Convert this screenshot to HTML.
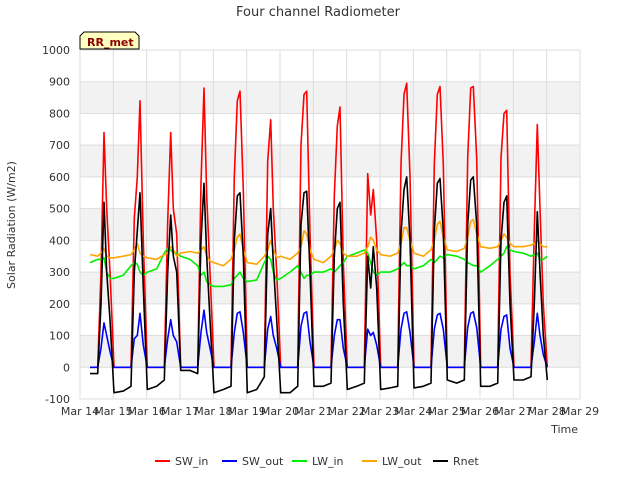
<!DOCTYPE html>
<html><head><meta charset="utf-8"><style>
body{margin:0;background:#fff;font-family:"DejaVu Sans","Liberation Sans",sans-serif;}
svg text{font-family:"DejaVu Sans","Liberation Sans",sans-serif;}
</style></head><body>
<svg id="chart" width="640" height="480">
<rect width="640" height="480" fill="#fff"/>
<text x="318" y="16" text-anchor="middle" font-size="13" fill="#333">Four channel Radiometer</text>
<g id="plot"></g>
<text x="15" y="225" font-size="11" fill="#333" text-anchor="middle" transform="rotate(-90 15 225)">Solar Radiation (W/m2)</text>
<text x="578" y="433" font-size="11" fill="#333" text-anchor="end">Time</text>
<g id="legend"></g>
<g>
<path d="M80,49 L80,36 L84,32 L135,32 L139,36 L139,49 Z" fill="#ffffc0" stroke="#000" stroke-width="1"/>
<text x="87" y="46" font-size="11" font-weight="bold" fill="#8b0000">RR_met</text>
</g>
</svg>
<script>
const dayOffsets=[0.3,0.53,0.63,0.72,0.8,0.9,1.02];
const days=[14,15,16,17,18,19,20,21,22,23,24,25,26,27];
const swIn=[
0,0,300,740,500,300,0, 0,0,470,600,840,400,0, 0,0,460,740,500,420,0, 0,0,580,880,540,300,0,
0,0,600,840,870,560,0, 0,0,650,780,500,300,0, 0,0,700,860,870,420,0, 0,0,540,760,820,330,0,
0,0,610,480,560,400,0, 0,0,640,860,895,600,0, 0,0,640,860,885,640,0, 0,0,660,880,885,660,0,
0,0,660,800,810,300,0, 0,0,430,765,500,200,0];
const swOut=[
0,0,60,140,100,50,0, 0,0,90,100,170,70,0, 0,0,90,150,100,80,0, 0,0,110,180,110,60,0,
0,0,110,170,175,110,0, 0,0,120,160,100,60,0, 0,0,130,170,175,80,0, 0,0,100,150,150,60,0,
0,0,120,100,110,70,0, 0,0,120,170,175,110,0, 0,0,120,165,170,120,0, 0,0,125,170,175,125,0,
0,0,120,160,165,60,0, 0,0,80,170,100,40,0];
const lwIn=[
330,340,340,345,300,280,280, 290,320,330,325,300,290,300, 310,360,375,370,360,360,350,
340,320,290,300,270,260,255, 255,260,280,290,300,280,270, 275,330,350,340,300,275,280,
300,320,300,280,290,290,300, 300,310,300,310,320,330,350, 360,370,360,330,300,290,300,
300,310,320,330,320,320,310, 320,340,330,340,350,345,355, 350,340,330,325,320,320,300,
320,340,350,360,380,370,365, 360,350,355,360,340,340,350];
const lwOut=[
355,350,360,375,350,345,345, 350,355,370,390,360,350,345, 340,355,360,380,370,350,360,
365,360,370,380,350,335,330, 320,340,370,410,420,370,330, 325,350,370,400,370,345,350,
340,360,380,430,420,370,340, 330,350,370,400,390,360,350, 350,360,380,410,400,370,355,
350,360,390,440,440,400,360, 350,370,400,450,460,410,370, 365,375,410,460,465,420,380,
375,380,400,420,410,390,380, 380,385,390,400,390,380,380];
const rnet=[
-20,-20,200,520,300,150,-80, -75,-60,300,430,550,250,-70, -60,-40,300,480,350,300,-10,
-10,-20,400,580,350,150,-80, -70,-60,400,540,550,350,-80, -70,-30,420,500,330,150,-80,
-80,-60,450,550,555,300,-60, -60,-50,350,500,520,200,-70, -60,-50,350,250,380,250,-70,
-65,-60,420,560,600,400,-65, -60,-50,430,580,595,430,-40, -50,-40,450,590,600,450,-60,
-60,-50,400,520,540,200,-40, -40,-30,200,490,300,100,-40];
const xTicks=["Mar 14","Mar 15","Mar 16","Mar 17","Mar 18","Mar 19","Mar 20","Mar 21","Mar 22","Mar 23","Mar 24","Mar 25","Mar 26","Mar 27","Mar 28","Mar 29"];
const yTicks=[-100,0,100,200,300,400,500,600,700,800,900,1000];
const seriesNames=["SW_in","SW_out","LW_in","LW_out","Rnet"];
const seriesColors=["#ff0000","#0000ff","#00ee00","#ffa500","#000000"];
const seriesData=[swIn,swOut,lwIn,lwOut,rnet];

const NS="http://www.w3.org/2000/svg";
const X0=80,X1=580,Y0=399,Y1=50;
const xs=d=>X0+(d-14)/15*(X1-X0);
const ys=v=>Y0-(v+100)/1100*(Y0-Y1);
const plot=document.getElementById('plot');
function mk(t,a){const e=document.createElementNS(NS,t);for(const k in a)e.setAttribute(k,a[k]);return e;}
for(let i=0;i<yTicks.length-1;i++){
 const v=yTicks[i];
 if(v>=0&&v%200===0){const r=mk('rect',{x:X0,y:ys(v+100),width:X1-X0,height:ys(v)-ys(v+100),fill:'#f2f2f2'});
 
 plot.appendChild(r);}
}
yTicks.forEach(v=>{
 const l=mk('line',{x1:X0,x2:X1,y1:ys(v),y2:ys(v),stroke:'#ddd','stroke-width':1});
 
 plot.appendChild(l);
 const t=mk('text',{x:X0-10,y:ys(v)+4,'text-anchor':'end','font-size':11,fill:'#333'});t.textContent=v;
 
 plot.appendChild(t);
});
xTicks.forEach((s,i)=>{
 const x=xs(14+i);
 const l=mk('line',{x1:x,x2:x,y1:Y1,y2:Y0,stroke:'#ddd','stroke-width':1});
 
 plot.appendChild(l);
 const t=mk('text',{x:x,y:Y0+16,'text-anchor':'middle','font-size':11,fill:'#333'});t.textContent=s;
 
 plot.appendChild(t);
});
const times=[];days.forEach(d=>dayOffsets.forEach(o=>times.push(d+o)));
seriesData.forEach((arr,si)=>{
 let p='';arr.forEach((v,i)=>{p+=(i?'L':'M')+xs(times[i]).toFixed(1)+','+ys(v).toFixed(1);});
 const path=mk('path',{d:p,fill:'none',stroke:seriesColors[si],'stroke-width':1.6,'stroke-linejoin':'round'});
 
 plot.appendChild(path);
});
const leg=document.getElementById('legend');
const lx=[155,222,292,362,433];
seriesNames.forEach((n,i)=>{
 const g=mk('g',{});
 
 
 g.appendChild(mk('line',{x1:lx[i],x2:lx[i]+15,y1:461,y2:461,stroke:seriesColors[i],'stroke-width':2}));
 const t=mk('text',{x:lx[i]+20,y:465,'font-size':11,fill:'#333'});t.textContent=n;g.appendChild(t);
 leg.appendChild(g);
});
</script>
</body></html>
